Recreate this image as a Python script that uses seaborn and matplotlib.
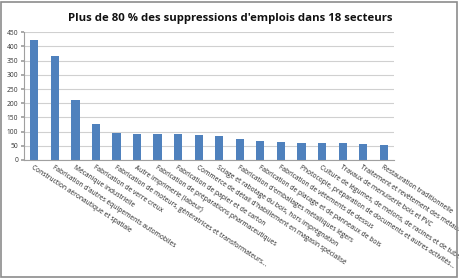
import matplotlib
matplotlib.use("Agg")
import matplotlib.pyplot as plt
import seaborn as sns
import pandas as pd
from matplotlib.patches import Rectangle

sns.set_theme(style="white")
plt.rcParams['font.family'] = ['Open Sans', 'DejaVu Sans']

title = "Plus de 80 % des suppressions d'emplois dans 18 secteurs"
secteurs = [
    "Construction aéronautique et spatiale",
    "Fabrication d'autres équipements automobiles",
    "Mécanique industrielle",
    "Fabrication de verre creux",
    "Fabrication de moteurs, génératrices et transformateurs...",
    "Autre imprimerie (labeur)",
    "Fabrication de préparations pharmaceutiques",
    "Fabrication de papier et de carton",
    "Commerce de détail d'habillement en magasin spécialisé",
    "Sciage et rabotage du bois, hors imprégnation",
    "Fabrication d'emballages métalliques légers",
    "Fabrication de placage et de panneaux de bois",
    "Fabrication de vêtements de dessus",
    "Photocopie, préparation de documents et autres activités...",
    "Culture de légumes, de melons, de racines et de tubercules",
    "Travaux de menuiserie bois et PVC",
    "Traitement et revêtement des métaux",
    "Restauration traditionnelle",
]
suppressions = [422, 367, 212, 128, 96, 92, 91, 90, 88, 85, 75, 67, 65, 61, 59, 59, 57, 52]
yticks = [0, 50, 100, 150, 200, 250, 300, 350, 400, 450]

df = pd.DataFrame({"secteur": secteurs, "valeur": suppressions})

fig = plt.figure(figsize=(4.6, 2.78), dpi=100)
ax = fig.add_axes([24/460, 1-160/278, 370/460, 127.7/278])

sns.barplot(data=df, x="secteur", y="valeur", color="#4F81BD", width=0.4,
            saturation=1, ax=ax, edgecolor="none")

ax.set_ylim(0, 450)
ax.set_yticks(yticks)
ax.set_yticklabels([str(v) for v in yticks], fontsize=4.8, color="#333333")
ax.yaxis.grid(True, color="#D0D0D0", linewidth=0.8)
ax.set_axisbelow(True)
for s in ["top", "right"]:
    ax.spines[s].set_visible(False)
ax.spines["left"].set_color("#A0A0A0")
ax.spines["bottom"].set_color("#A0A0A0")
ax.spines["left"].set_linewidth(0.8)
ax.spines["bottom"].set_linewidth(0.8)
ax.tick_params(axis="y", length=2, pad=2, color="#A0A0A0", left=True)
ax.tick_params(axis="x", length=0, pad=3)
ax.set_xlabel("")
ax.set_ylabel("")
ax.set_xticks(range(len(secteurs)))
ax.set_xticklabels(secteurs, rotation=-33, ha="left", va="top",
                   rotation_mode="anchor", fontsize=4.8, color="#222222")

fig.text(230/460, 1-18/278, title, ha="center", va="center",
         fontsize=8.2, fontweight="bold", color="#111111")

fig.patches.append(Rectangle((0.5/460, 1/278), 457/460, 275/278,
                             transform=fig.transFigure, fill=False,
                             edgecolor="#8C8C8C", linewidth=1.2))

fig.savefig("out.png", dpi=100)
